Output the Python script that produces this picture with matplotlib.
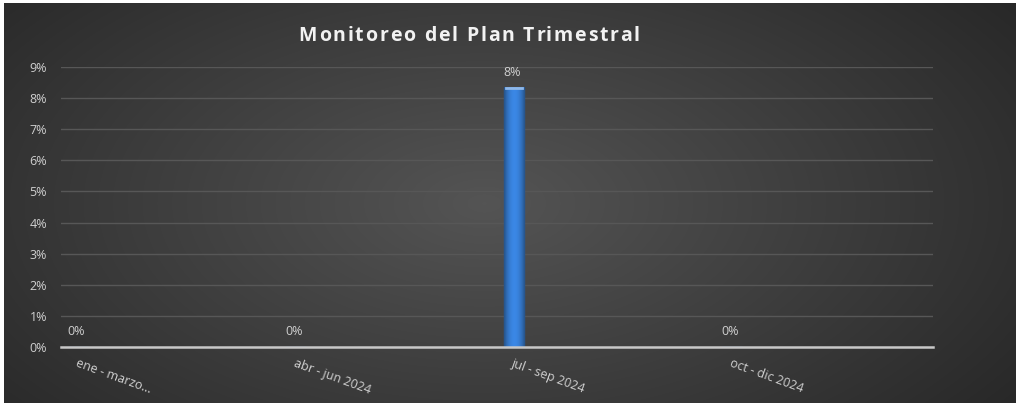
import numpy as np
import matplotlib.pyplot as plt
from matplotlib.ticker import PercentFormatter

categories = ['ene - marzo...', 'abr - jun 2024', 'jul - sep 2024', 'oct - dic 2024']
avance = [0.0, 0.0, 0.0833, 0.0]
labels = ['0%', '0%', '8%', '0%']
title = 'Monitoreo del Plan Trimestral'

plt.rcParams['font.family'] = ['Open Sans', 'DejaVu Sans']

fig = plt.figure(figsize=(10.17, 4.03), dpi=100)
fig.patch.set_facecolor('white')

# dark radial background panel
bg = fig.add_axes([4 / 1017, 0, 1012 / 1017, 400 / 403])
h, w = 400, 1012
yy, xx = np.mgrid[0:h, 0:w]
r = np.sqrt(((xx - 480) / 640.0) ** 2 + ((yy - 200) / 340.0) ** 2)
shade = np.clip(0.33 - 0.17 * r, 0.15, 0.33)
bg.imshow(np.dstack([shade] * 3), aspect='auto', interpolation='bilinear')
bg.axis('off')

ax = fig.add_axes([61 / 1017, 56 / 403, 872 / 1017, 280 / 403])
ax.patch.set_alpha(0)

x = np.arange(len(categories))
width = 0.092
bars = ax.bar(x, avance, width=width, color='#3b7dd4', edgecolor='#2a5a9c',
              linewidth=1.0, zorder=3)

# horizontal shading on the bars
grad = np.linspace(-1, 1, 64)
strip = 1 - 0.45 * grad ** 2
cols = np.zeros((1, 64, 3))
cols[0, :, 0] = 0.18 * strip + 0.05
cols[0, :, 1] = 0.45 * strip + 0.08
cols[0, :, 2] = 0.80 * strip + 0.10
for xi, v in zip(x, avance):
    if v > 0:
        ax.imshow(cols, extent=(xi - width / 2, xi + width / 2, 0, v),
                  aspect='auto', zorder=4, interpolation='bilinear')
        ax.plot([xi - width / 2 + 0.01, xi + width / 2 - 0.01], [v, v],
                color='#8fb8ea', lw=2, zorder=5)

for xi, v, t in zip(x, avance, labels):
    ax.text(xi - 0.01, v + 0.0028, t, ha='center', va='bottom', color='#d0d0d0',
            fontsize=9, zorder=6)

ax.set_xlim(-0.078, 3.922)
ax.set_ylim(0, 0.09)
ax.yaxis.set_major_locator(plt.MultipleLocator(0.01))
ax.yaxis.set_major_formatter(PercentFormatter(1.0, decimals=0))
ax.grid(axis='y', color='#575757', linewidth=1.0, zorder=0)
ax.set_axisbelow(True)

for s in ['top', 'right', 'left']:
    ax.spines[s].set_visible(False)
ax.spines['bottom'].set_color('#c8c8c8')
ax.spines['bottom'].set_linewidth(1.8)
ax.spines['bottom'].set_zorder(7)

ax.tick_params(axis='y', length=0, colors='#d0d0d0', labelsize=9, pad=10)
ax.tick_params(axis='x', length=0, colors='#d0d0d0', labelsize=9, pad=7)
ax.set_xticks(x)
ax.set_xticklabels(categories, rotation=-20, ha='left', rotation_mode='anchor')

# title with extra letter spacing, placed one character at a time
renderer = fig.canvas.get_renderer()
tkw = dict(color='#f2f2f2', fontsize=14, fontweight='bold', va='center')
spacing = 1.8
probe = fig.text(0, 0, title, **tkw)
full = probe.get_window_extent(renderer).width
probe.remove()
total = full + spacing * (len(title) - 1)
x0 = 469 - total / 2
for i, ch in enumerate(title):
    p = fig.text(0, 0, title[:i] + 'M', **tkw)
    m = fig.text(0, 0, 'M', **tkw)
    off = p.get_window_extent(renderer).width - m.get_window_extent(renderer).width
    p.remove()
    m.remove()
    fig.text((x0 + off + spacing * i) / 1017, 1 - 36 / 403, ch, ha='left', **tkw)

fig.savefig('out.png', dpi=100, facecolor=fig.get_facecolor())
